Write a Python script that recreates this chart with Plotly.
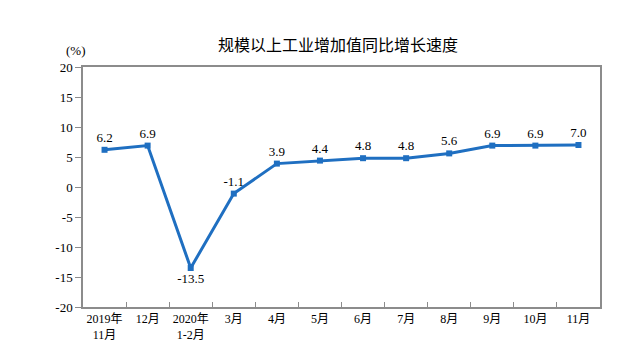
import plotly.graph_objects as go

categories = ["2019年<br>11月", "12月", "2020年<br>1-2月", "3月", "4月", "5月", "6月", "7月", "8月", "9月", "10月", "11月"]
values = [6.2, 6.9, -13.5, -1.1, 3.9, 4.4, 4.8, 4.8, 5.6, 6.9, 6.9, 7.0]
labels = ["6.2", "6.9", "-13.5", "-1.1", "3.9", "4.4", "4.8", "4.8", "5.6", "6.9", "6.9", "7.0"]
y_ticks = [-20, -15, -10, -5, 0, 5, 10, 15, 20]
y_tick_text = ["-20", "-15", "-10", "-5", "0", "5", "10", "15", "20"]

positions = ["bottom center" if v < -10 else "top center" for v in values]

serif = "Liberation Serif, Times New Roman, Noto Sans CJK SC, serif"

fig = go.Figure()
fig.add_trace(go.Scatter(
    x=categories, y=values, mode="lines+markers+text",
    text=labels, textposition=positions,
    textfont=dict(family=serif, size=13, color="#000000"),
    line=dict(color="#1f6fc1", width=3),
    marker=dict(symbol="square", size=6, color="#1f6fc1"),
    cliponaxis=False, showlegend=False, hoverinfo="skip",
))

fig.update_layout(
    width=640, height=362,
    margin=dict(l=83, r=40, t=67, b=55),
    paper_bgcolor="white", plot_bgcolor="white",
    title=dict(text="规模以上工业增加值同比增长速度", x=0.528, xanchor="center", y=0.875, yanchor="middle",
               font=dict(family="Noto Sans CJK SC", size=16, color="#000000")),
    xaxis=dict(type="category", range=[-0.5, len(categories) - 0.5],
               tickson="boundaries", ticks="inside", ticklen=5,
               tickcolor="#8c8c8c", showline=True, linecolor="#8c8c8c", linewidth=1.5,
               mirror=True, showgrid=False, tickangle=0, automargin=False,
               tickfont=dict(family=serif, size=12, color="#000000")),
    yaxis=dict(range=[-20, 20], tickvals=y_ticks, ticktext=y_tick_text, ticks="outside", ticklen=6,
               tickcolor="#8c8c8c", showline=True, linecolor="#8c8c8c", linewidth=1.5,
               mirror=True, showgrid=False, zeroline=False, automargin=False,
               tickfont=dict(family=serif, size=13, color="#000000")),
    annotations=[dict(text="(%)", xref="paper", yref="paper", x=0.01, y=1.07,
                      xanchor="right", yanchor="middle", showarrow=False,
                      font=dict(family=serif, size=13, color="#000000"))],
)

fig.write_html("out.html", config={"displayModeBar": False},
               post_script="document.body.style.margin='0';")
